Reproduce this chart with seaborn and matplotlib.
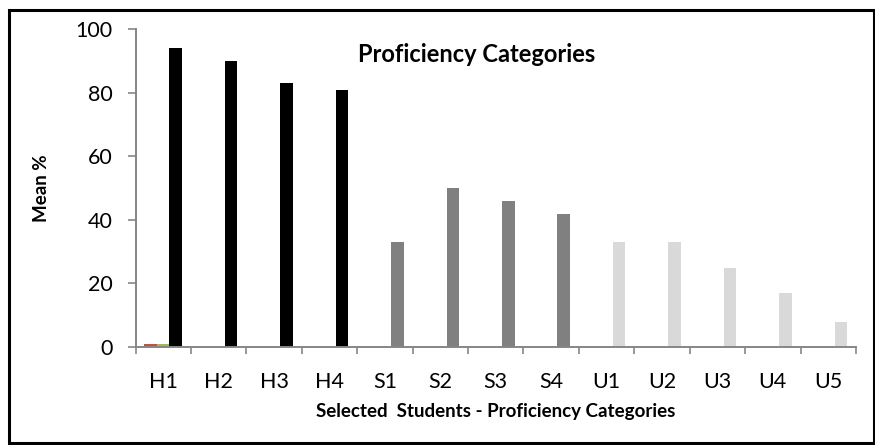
import matplotlib
matplotlib.use("Agg")
import matplotlib.pyplot as plt
from matplotlib.patches import Rectangle
import seaborn as sns
import pandas as pd

# Students and their mean scores
students = ["H1", "H2", "H3", "H4", "S1", "S2", "S3", "S4",
            "U1", "U2", "U3", "U4", "U5"]
series_names = ["Series1", "Series2", "Series3"]
series1 = [1, 0, 0, 0, 0, 0, 0, 0, 0, 0, 0, 0, 0]
series2 = [1, 0, 0, 0, 0, 0, 0, 0, 0, 0, 0, 0, 0]
series3 = [94, 90, 83, 81, 33, 50, 46, 42, 33, 33, 25, 17, 8]

y_ticks = [0, 20, 40, 60, 80, 100]

# Colours: one per series, and per proficiency group for the main series
series_colors = ["#C0504D", "#9BBB59", "#000000"]
group_colors = {"H": "#000000", "S": "#808080", "U": "#D9D9D9"}

rows = []
for name, vals in zip(series_names, [series1, series2, series3]):
    for s, v in zip(students, vals):
        rows.append({"student": s, "series": name, "value": v})
df = pd.DataFrame(rows)

sns.set_theme(style="white")
plt.rcParams["font.family"] = ["Lato", "DejaVu Sans"]

fig = plt.figure(figsize=(8.75, 4.45), dpi=100)
ax = fig.add_axes([135.5 / 875, 1 - 347 / 445, (856 - 135.5) / 875, (347 - 29.3) / 445])

sns.barplot(data=df, x="student", y="value", hue="series", order=students,
            hue_order=series_names, palette=series_colors, width=0.68,
            saturation=1, legend=False, ax=ax)

for bar, s in zip(ax.containers[2], students):
    bar.set_facecolor(group_colors[s[0]])
for cont in ax.containers:
    for bar in cont:
        bar.set_edgecolor("none")

ax.set_xlim(-0.5, len(students) - 0.5)
ax.set_ylim(0, 100)
ax.set_yticks(y_ticks)

# category labels centred, tick marks at category boundaries
ax.set_xticks(range(len(students)))
ax.set_xticklabels(students)
ax.set_xticks([i - 0.5 for i in range(len(students) + 1)], minor=True)
ax.tick_params(axis="x", which="major", length=0, pad=18, labelsize=15.5, labelcolor="black")
ax.tick_params(axis="x", which="minor", length=5, width=1.2, color="#868686", direction="out")
ax.tick_params(axis="y", length=5.5, width=1.2, color="#868686", direction="out",
               labelsize=15.5, labelcolor="black", pad=11)
ax.tick_params(bottom=True, left=True, which="both")

for side in ["top", "right"]:
    ax.spines[side].set_visible(False)
for side in ["left", "bottom"]:
    ax.spines[side].set_color("#868686")
    ax.spines[side].set_linewidth(1.4)

ax.set_xlabel("Selected  Students - Proficiency Categories", fontsize=13.5,
              fontweight="bold", labelpad=8, color="black")
ax.set_ylabel("Mean %", fontsize=13.5, fontweight="bold", labelpad=18, color="black")
ax.text(0.473, 0.92, "Proficiency Categories", transform=ax.transAxes,
        fontsize=17, fontweight="bold", ha="center", va="center", color="black")

# outer frame around the chart
fig.patches.append(Rectangle((9 / 875, 2.5 / 445), (875 - 10) / 875, (442.5 - 10) / 445,
                             transform=fig.transFigure, fill=False,
                             edgecolor="black", linewidth=2.2))

fig.savefig("out.png", dpi=100)
